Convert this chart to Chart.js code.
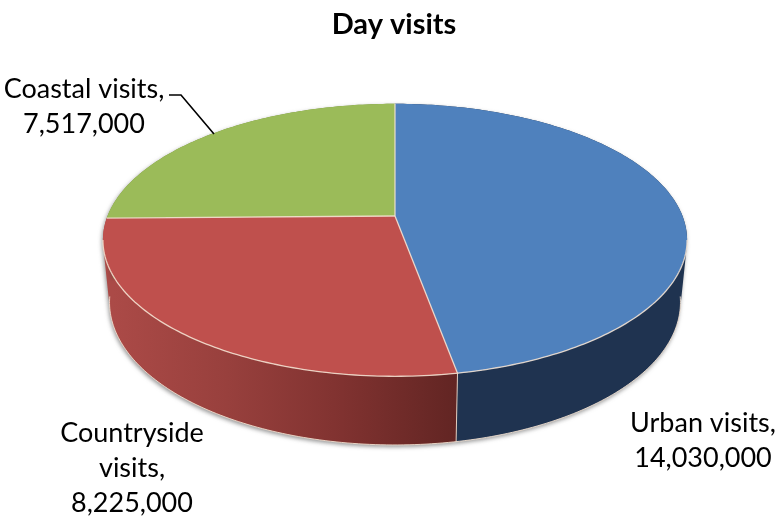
<!DOCTYPE html>
<html>
<head>
<meta charset="utf-8">
<style>
    body { margin: 0; background: #ffffff; }
    canvas { display: block; }
</style>
<script src="https://cdn.jsdelivr.net/npm/chart.js@4/dist/chart.umd.min.js"></script>
</head>
<body>
<canvas id="day_visits" width="776" height="518"></canvas>
<script>
"use strict";
// Data
const chart_title = "Day visits";
const categories = ["Urban visits", "Countryside visits", "Coastal visits"];
const visits = [14030000, 8225000, 7517000];
const label_lines = [
    ["Urban visits,", "14,030,000"],
    ["Countryside", "visits,", "8,225,000"],
    ["Coastal visits,", "7,517,000"],
];

// Styles
const top_colors = ["#4f81bd", "#bf504d", "#9bbb59"];
const side_stops = [
    ["#1e3654", "#1f3350"],
    ["#ab4a47", "#98403d", "#803230", "#622523"],
    ["#76923c", "#76923c"],
];
const label_centers = [[703, 423], [132, 433], [84, 89]];
const label_line_height = 35;
const label_font = "27px Lato";
const leader_line = [[169, 95], [181, 95], [214, 134]];
const edge_color = "rgba(246, 228, 212, 0.85)";

// Perspective of the pie, top face and bottom rim
const top_face = { x: 395, y: 216, a: 287.5, b: 132, c: 0.1765 };
const bottom_rim = { x: 395, y: 277, a: 281, b: 138.3, c: 0.1765 };

function project(face, angle) {
    const u = Math.cos(angle);
    const v = Math.sin(angle);
    const d = 1 - face.c * v;
    return [face.x + face.a * u / d, face.y + face.b * v / d];
}

function traceRim(ctx, face, start, end, move_first) {
    const steps = Math.max(2, Math.ceil(Math.abs(end - start) * 60));
    for (let i = 0; i <= steps; i++) {
        const p = project(face, start + (end - start) * i / steps);
        if (i === 0 && move_first) {
            ctx.moveTo(p[0], p[1]);
        }
        else {
            ctx.lineTo(p[0], p[1]);
        }
    }
}

// Adds the wall of one slice as small quads, so the outline follows the silhouette of the pie
function traceWall(ctx, start, end) {
    const steps = Math.max(2, Math.ceil((end - start) * 60));
    for (let i = 0; i < steps; i++) {
        const a = start + (end - start) * i / steps;
        const b = start + (end - start) * (i + 1) / steps;
        const p1 = project(top_face, a);
        const p2 = project(top_face, b);
        const p3 = project(bottom_rim, b);
        const p4 = project(bottom_rim, a);
        // Same winding for every quad, so the path fills as one shape
        const turn = (p2[0] - p1[0]) * (p3[1] - p1[1]) - (p2[1] - p1[1]) * (p3[0] - p1[0]);
        const quad = turn > 0 ? [p1, p2, p3, p4] : [p4, p3, p2, p1];
        ctx.moveTo(quad[0][0], quad[0][1]);
        ctx.lineTo(quad[1][0], quad[1][1]);
        ctx.lineTo(quad[2][0], quad[2][1]);
        ctx.lineTo(quad[3][0], quad[3][1]);
        ctx.closePath();
    }
}

// Draws the arcs of the pie in perspective, with the angles the library computed
const pie_3d = {
    id: "pie3d",
    beforeDatasetsDraw(chart) {
        const ctx = chart.ctx;
        const arcs = chart.getDatasetMeta(0).data;
        const c = top_face.c;
        ctx.save();

        // Side walls
        arcs.forEach(function (arc, index) {
            const stops = side_stops[index];
            const first = project(bottom_rim, arc.endAngle)[0];
            const last = project(bottom_rim, arc.startAngle)[0];
            const gradient = ctx.createLinearGradient(Math.min(first, last), 0, Math.max(first, last), 0);
            stops.forEach(function (stop, i) {
                gradient.addColorStop(i / (stops.length - 1), stop);
            });
            ctx.save();
            ctx.shadowColor = "rgba(60, 60, 60, 0.55)";
            ctx.shadowBlur = 4;
            ctx.shadowOffsetY = 2;
            ctx.shadowOffsetX = -1;
            ctx.beginPath();
            traceWall(ctx, arc.startAngle, arc.endAngle);
            ctx.fillStyle = gradient;
            ctx.fill();
            ctx.restore();
        });

        // Light line on the bottom rim
        ctx.strokeStyle = edge_color;
        ctx.lineWidth = 1;
        ctx.beginPath();
        traceRim(ctx, bottom_rim, Math.asin(c) - 0.04, Math.PI - Math.asin(c) + 0.04, true);
        ctx.stroke();

        // Wall edges between slices
        arcs.forEach(function (arc) {
            if (Math.sin(arc.endAngle) > c) {
                const p = project(top_face, arc.endAngle);
                const q = project(bottom_rim, arc.endAngle);
                ctx.beginPath();
                ctx.moveTo(p[0], p[1]);
                ctx.lineTo(q[0], q[1]);
                ctx.stroke();
            }
        });

        // Top faces
        arcs.forEach(function (arc, index) {
            ctx.beginPath();
            ctx.moveTo(top_face.x, top_face.y);
            traceRim(ctx, top_face, arc.startAngle, arc.endAngle, false);
            ctx.closePath();
            ctx.fillStyle = top_colors[index];
            ctx.fill();
        });

        // Light lines between slices and on the front of the top rim
        ctx.strokeStyle = edge_color;
        ctx.lineWidth = 1.3;
        arcs.forEach(function (arc) {
            const p = project(top_face, arc.startAngle);
            ctx.beginPath();
            ctx.moveTo(top_face.x, top_face.y);
            ctx.lineTo(p[0], p[1]);
            ctx.stroke();
        });
        ctx.beginPath();
        traceRim(ctx, top_face, Math.asin(c), Math.PI - Math.asin(c), true);
        ctx.stroke();

        ctx.restore();
        return false; // The library's flat arcs are replaced by the ones above
    },
    afterDraw(chart) {
        const ctx = chart.ctx;
        ctx.save();
        // Leader Line
        ctx.strokeStyle = "#000000";
        ctx.lineWidth = 1.6;
        ctx.beginPath();
        leader_line.forEach(function (point, i) {
            if (i === 0) {
                ctx.moveTo(point[0], point[1]);
            }
            else {
                ctx.lineTo(point[0], point[1]);
            }
        });
        ctx.stroke();
        // Labels
        ctx.fillStyle = "#000000";
        ctx.font = label_font;
        ctx.textAlign = "center";
        ctx.textBaseline = "middle";
        label_lines.forEach(function (lines, index) {
            lines.forEach(function (line, i) {
                ctx.fillText(line, label_centers[index][0], label_centers[index][1] + i * label_line_height);
            });
        });
        ctx.restore();
    },
};

new Chart(document.getElementById("day_visits"), {
    type: "pie",
    data: {
        labels: categories,
        datasets: [{
            data: visits,
            backgroundColor: top_colors,
            clip: false,
        }],
    },
    options: {
        responsive: false,
        animation: false,
        layout: {
            padding: { left: 12, top: 7 },
        },
        plugins: {
            legend: { display: false },
            tooltip: { enabled: false },
            title: {
                display: true,
                text: chart_title,
                color: "#000000",
                font: { family: "Lato", size: 29, weight: "bold" },
                padding: { top: 0, bottom: 10 },
            },
        },
    },
    plugins: [pie_3d],
});
</script>
</body>
</html>
